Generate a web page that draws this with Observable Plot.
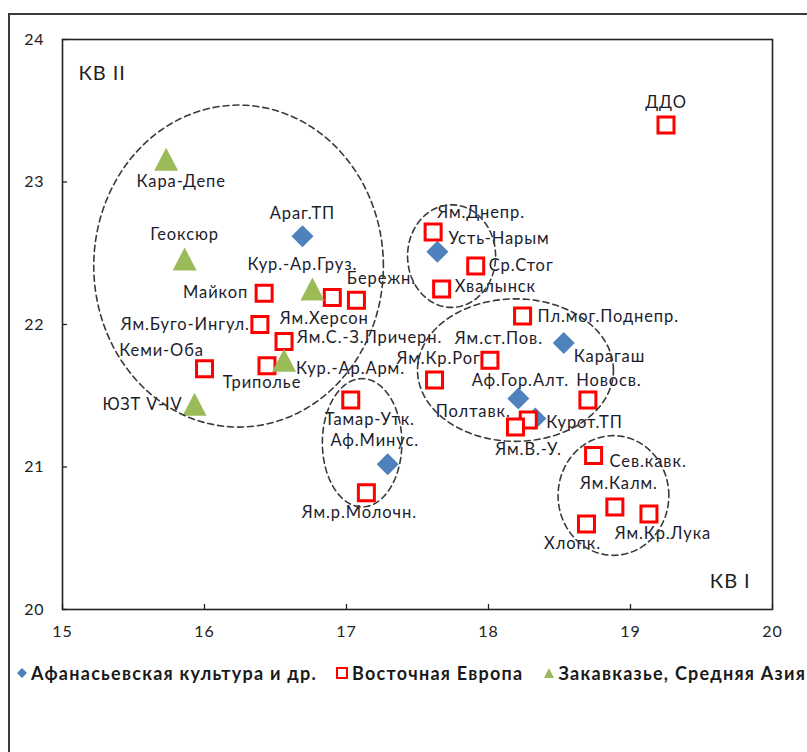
<!DOCTYPE html>
<html>
<head>
<meta charset="utf-8">
<script src="https://cdn.jsdelivr.net/npm/d3@7"></script>
<script src="https://cdn.jsdelivr.net/npm/@observablehq/plot@0.6"></script>
<style>
  html, body { margin: 0; padding: 0; background: #fff; overflow: hidden; }
  #outer { position: absolute; left: 8px; top: 13px; width: 900px; height: 900px;
           border-left: 2px solid #3a3a3a; border-top: 2px solid #3a3a3a; }
  #chart { position: absolute; left: 0; top: 0; }
  #legend { position: absolute; left: 16px; top: 662px; font-family: Lato, "Open Sans", sans-serif;
            font-size: 18px; font-weight: bold; letter-spacing: 1.25px; color: #1a1a1a; white-space: nowrap; display: flex; align-items: center; }
  #legend .item { display: flex; align-items: center; margin-right: 18px; }
  #legend svg { margin-right: 3px; }
</style>
</head>
<body>
<div id="outer"></div>
<div id="chart"></div>
<div id="legend"></div>
<script>
// ---- data ----
const seriesNames = ["Афанасьевская культура и др.", "Восточная Европа", "Закавказье, Средняя Азия"];

const afanNames = ["Араг.ТП", "Усть-Нарым", "Карагаш", "Аф.Гор.Алт.", "Курот.ТП", "Аф.Минус."];
const afanX = [16.69, 17.64, 18.53, 18.21, 18.33, 17.29];
const afanY = [22.62, 22.51, 21.87, 21.48, 21.34, 21.02];

const eeNames = ["ДДО", "Майкоп", "Ям.Херсон", "Бережн.", "Ям.Буго-Ингул.", "Ям.С.-З.Причерн.", "Триполье",
  "Кеми-Оба", "Тамар-Утк.", "Ям.р.Молочн.", "Ям.Днепр.", "Ср.Стог", "Хвалынск", "Пл.мог.Поднепр.",
  "Ям.ст.Пов.", "Ям.Кр.Рог", "Новосв.", "Полтавк.", "Ям.В.-У.", "Сев.кавк.", "Ям.Калм.", "Ям.Кр.Лука", "Хлопк."];
const eeX = [19.25, 16.42, 16.90, 17.07, 16.39, 16.56, 16.44, 16.00, 17.03, 17.14, 17.61, 17.91, 17.67, 18.24,
  18.01, 17.62, 18.70, 18.28, 18.19, 18.74, 18.89, 19.13, 18.69];
const eeY = [23.40, 22.22, 22.19, 22.17, 22.00, 21.88, 21.71, 21.69, 21.47, 20.82, 22.65, 22.41, 22.25, 22.06,
  21.75, 21.61, 21.47, 21.33, 21.28, 21.08, 20.72, 20.67, 20.60];

const caNames = ["Кара-Депе", "Геоксюр", "Кур.-Ар.Груз.", "Кур.-Ар.Арм.", "ЮЗТ V-IV"];
const caX = [15.73, 15.86, 16.76, 16.56, 15.93];
const caY = [23.16, 22.46, 22.25, 21.75, 21.44];

const xTicks = [15, 16, 17, 18, 19, 20];
const yTicks = [20, 21, 22, 23, 24];

// group ellipses (centre and radii in data units)
const ellipseCX = [16.24, 17.74, 18.19, 17.11, 18.88];
const ellipseCY = [22.41, 22.48, 21.68, 21.17, 20.80];
const ellipseRX = [1.02, 0.31, 0.69, 0.28, 0.39];
const ellipseRY = [1.13, 0.36, 0.50, 0.45, 0.42];

// ---- label placement (pixel offsets from point, text anchor) ----
const labelPlacement = {
  "ДДО": [0, -22, "middle"], "Кара-Депе": [15, 23, "middle"], "Геоксюр": [0, -24, "middle"],
  "Араг.ТП": [0, -22, "middle"], "Кур.-Ар.Груз.": [-10, -24, "middle"], "Майкоп": [-16, 0, "end"],
  "Бережн.": [25, -22, "middle"], "Ям.Херсон": [-8, 21, "middle"], "Ям.Буго-Ингул.": [-10, 0, "end"],
  "Ям.С.-З.Причерн.": [13, -4, "start"], "Кур.-Ар.Арм.": [12, 9, "start"], "Триполье": [-5, 17, "middle"],
  "Кеми-Оба": [-43, -18, "middle"], "ЮЗТ V-IV": [-12, 0, "end"], "Тамар-Утк.": [19, 20, "middle"],
  "Аф.Минус.": [-13, -23, "middle"], "Ям.р.Молочн.": [-7, 20, "middle"], "Ям.Днепр.": [48, -19, "middle"],
  "Усть-Нарым": [11, -13, "start"], "Ср.Стог": [13, 0, "start"], "Хвалынск": [13, -2, "start"],
  "Пл.мог.Поднепр.": [15, 1, "start"], "Ям.ст.Пов.": [9, -21, "middle"], "Карагаш": [10, 14, "start"],
  "Ям.Кр.Рог": [4, -21, "middle"], "Аф.Гор.Алт.": [2, -18, "middle"], "Новосв.": [21, -19, "middle"],
  "Полтавк.": [-55, -8, "middle"], "Ям.В.-У.": [13, 23, "middle"], "Курот.ТП": [11, 4, "start"],
  "Сев.кавк.": [16, 6, "start"], "Ям.Калм.": [4, -23, "middle"], "Ям.Кр.Лука": [14, 20, "middle"],
  "Хлопк.": [-14, 20, "middle"]
};

// ---- build tables ----
const pts = [];
afanNames.forEach((n, i) => pts.push({name: n, x: afanX[i], y: afanY[i], g: 0}));
eeNames.forEach((n, i) => pts.push({name: n, x: eeX[i], y: eeY[i], g: 1}));
caNames.forEach((n, i) => pts.push({name: n, x: caX[i], y: caY[i], g: 2}));

const ellipsePts = [];
ellipseCX.forEach((cx, k) => {
  for (let j = 0; j < 120; j++) {
    const t = (j / 120) * 2 * Math.PI;
    ellipsePts.push({id: k, x: cx + ellipseRX[k] * Math.cos(t), y: ellipseCY[k] + ellipseRY[k] * Math.sin(t)});
  }
});

// custom symbols (centred on bounding box like the spreadsheet markers)
const diamondSym = {draw(ctx) { const h = 11; ctx.moveTo(0, -h); ctx.lineTo(h, 0); ctx.lineTo(0, h); ctx.lineTo(-h, 0); ctx.closePath(); }};
const squareSym = {draw(ctx) { const h = 8; ctx.moveTo(-h, -h); ctx.lineTo(h, -h); ctx.lineTo(h, h); ctx.lineTo(-h, h); ctx.closePath(); }};
const triSym = {draw(ctx) { const w = 12, h = 11.5; ctx.moveTo(0, -h); ctx.lineTo(w, h); ctx.lineTo(-w, h); ctx.closePath(); }};

const colors = {blue: "#4F81BD", red: "#FF0000", green: "#9BBB59"};
const font = 'Lato, "Open Sans", sans-serif';

const labelMarks = pts.map(d => {
  const [dx, dy, anchor] = labelPlacement[d.name];
  return Plot.text([d], {x: "x", y: "y", text: "name", dx, dy, textAnchor: anchor, fill: "#1c1c2c", fontSize: 16.5});
});

const chart = Plot.plot({
  width: 807, height: 652,
  marginLeft: 62, marginTop: 39, marginRight: 35, marginBottom: 43,
  style: {fontFamily: font, background: "transparent", overflow: "visible", letterSpacing: "0.9px"},
  x: {domain: [15, 20], label: null},
  y: {domain: [20, 24], label: null},
  marks: [
    Plot.axisX({ticks: xTicks, tickSize: 0, tickPadding: 16, fontSize: 16, color: "#222", label: null, tickFormat: d => String(d)}),
    Plot.axisY({ticks: yTicks, tickSize: 0, tickPadding: 18, fontSize: 16, color: "#222", label: null, tickFormat: d => String(d)}),
    Plot.tickX(xTicks, {x: d => d, insetTop: 565, stroke: "#222", strokeWidth: 1.3}),
    Plot.tickY(yTicks, {y: d => d, insetRight: 705, stroke: "#222", strokeWidth: 1.3}),
    Plot.frame({stroke: "#222", strokeWidth: 1.6}),
    Plot.dot(pts.filter(d => d.g === 0), {x: "x", y: "y", symbol: diamondSym, r: 5, fill: colors.blue, stroke: "none"}),
    Plot.dot(pts.filter(d => d.g === 1), {x: "x", y: "y", symbol: squareSym, r: 5, fill: "white", stroke: colors.red, strokeWidth: 3}),
    Plot.dot(pts.filter(d => d.g === 2), {x: "x", y: "y", symbol: triSym, r: 5, fill: colors.green, stroke: "none"}),
    ...labelMarks,
    Plot.line(ellipsePts, {x: "x", y: "y", z: "id", curve: "linear-closed", stroke: "#3a3a3a", strokeWidth: 1.6, strokeDasharray: "6,4"}),
    Plot.text(["КВ II"], {frameAnchor: "top-left", text: d => d, dx: 16, dy: 26, textAnchor: "start", fontSize: 20, fill: "#222"}),
    Plot.text(["КВ I"], {frameAnchor: "bottom-right", text: d => d, dx: -22, dy: -22, textAnchor: "end", fontSize: 20, fill: "#222"})
  ]
});
document.getElementById("chart").appendChild(chart);

// ---- legend ----
const legendSymbols = [
  '<svg width="12" height="14"><path d="M6,2L11,7L6,12L1,7Z" fill="' + colors.blue + '"/></svg>',
  '<svg width="14" height="14"><rect x="2" y="2" width="10" height="10" fill="white" stroke="' + colors.red + '" stroke-width="2"/></svg>',
  '<svg width="14" height="14"><path d="M7,2L12,12L2,12Z" fill="' + colors.green + '"/></svg>'
];
const legend = document.getElementById("legend");
seriesNames.forEach((s, i) => {
  const it = document.createElement("div");
  it.className = "item";
  it.innerHTML = legendSymbols[i] + "<span>" + s + "</span>";
  legend.appendChild(it);
});
</script>
</body>
</html>
